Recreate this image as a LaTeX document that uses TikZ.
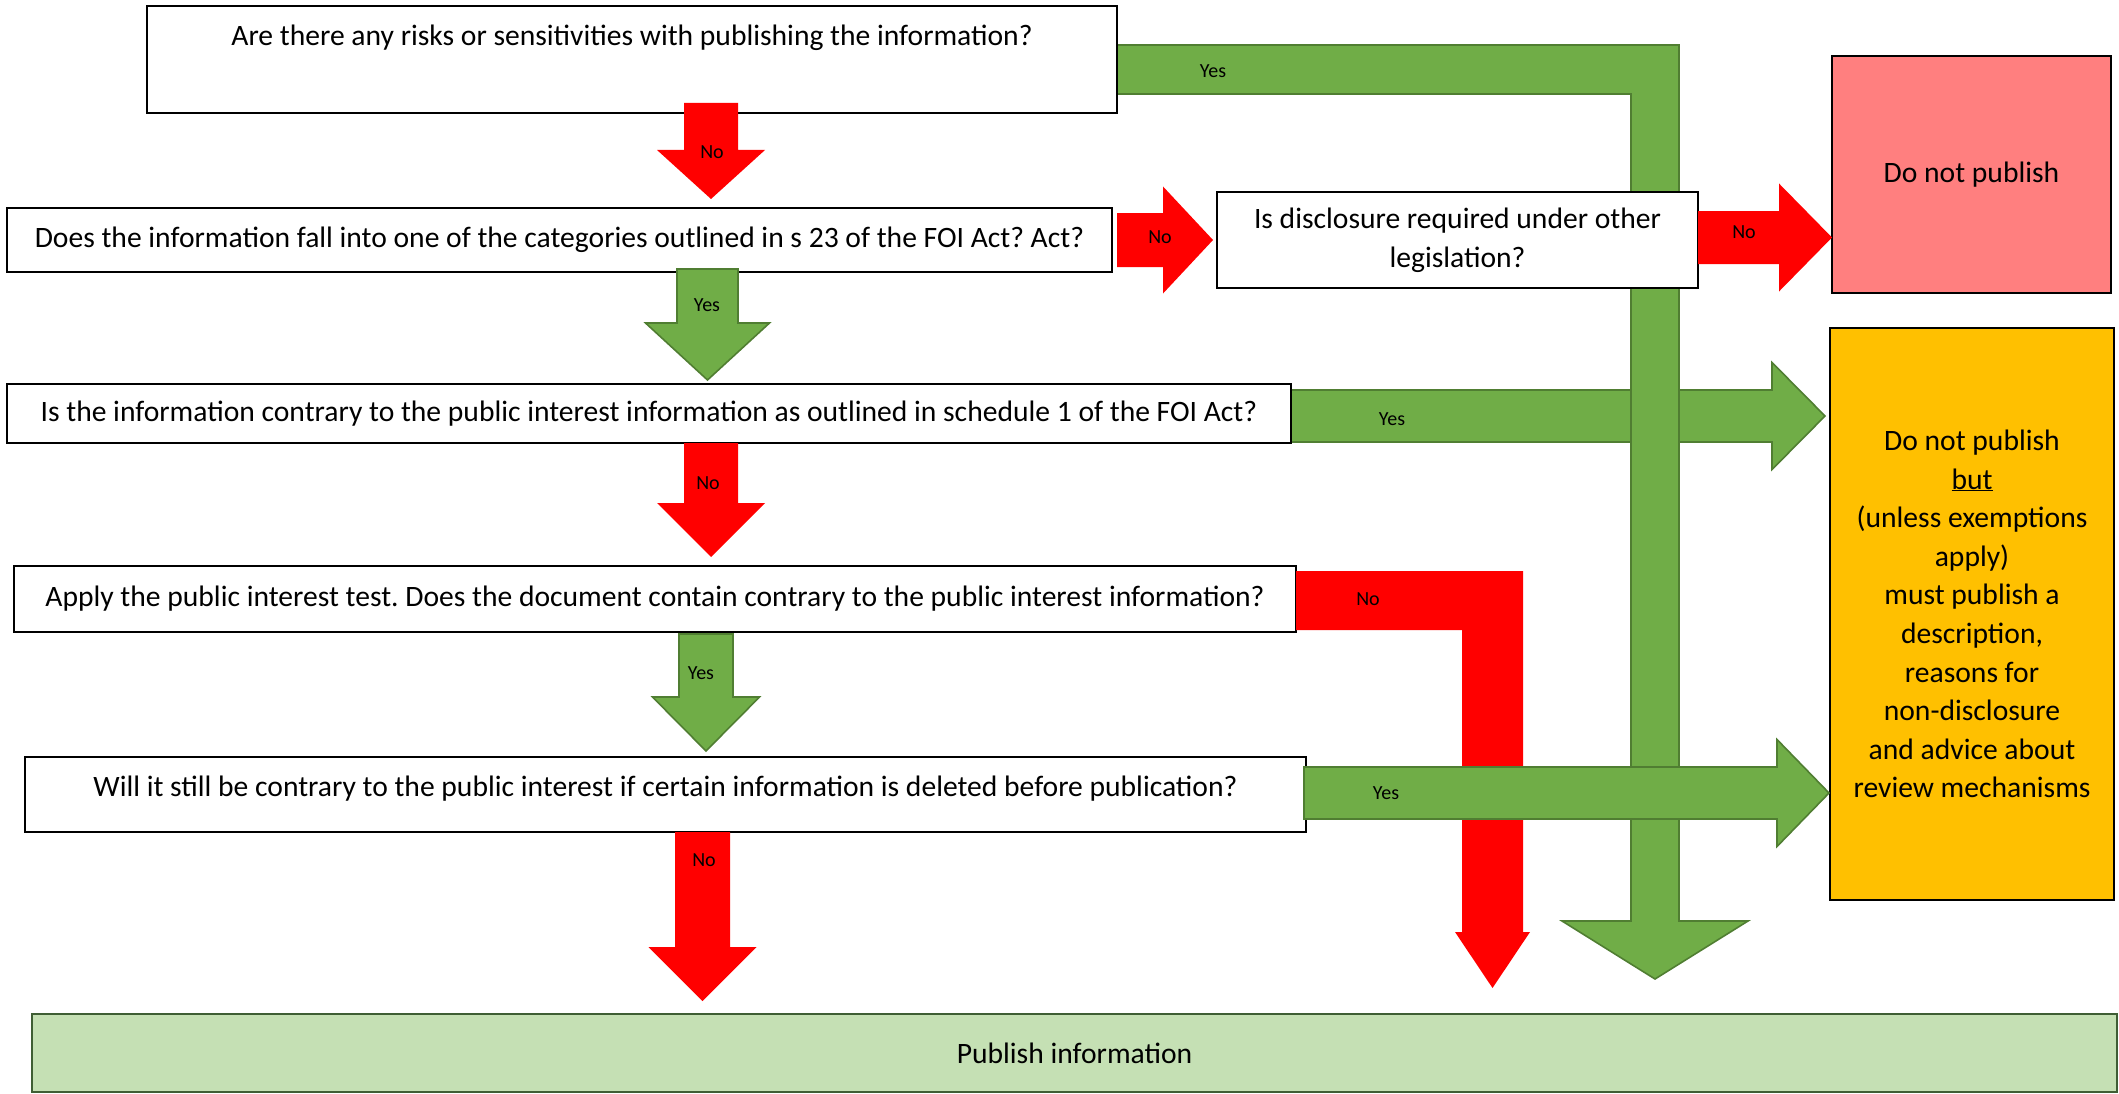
\documentclass[tikz,border=0pt]{standalone}
\usepackage{fontspec}
\setmainfont{Carlito}
\definecolor{gfill}{HTML}{70AD47}
\definecolor{gline}{HTML}{507E32}
\definecolor{rfill}{HTML}{FF0000}
\definecolor{pinkbox}{HTML}{FF7F7F}
\definecolor{yelbox}{HTML}{FFC000}
\definecolor{pubbox}{HTML}{C5E0B4}
\definecolor{publine}{HTML}{3F5E34}
\tikzset{
 qbox/.style={draw=black, line width=2.4pt, fill=white, inner sep=0pt, outer sep=0pt, align=center, font=\fontsize{29.6}{38.6}\selectfont},
 garrow/.style={fill=gfill, draw=gline, line width=1.6pt, line join=miter},
 rarrow/.style={fill=rfill},
 lbl/.style={font=\fontsize{20}{24}\selectfont, inner sep=0pt},
}
\newcommand{\dnarrow}[7]{%
  \path[#1] ({#2-#6},#3) -- ({#2+#6},#3) -- ({#2+#6},#4) -- ({#2+#7},#4) -- (#2,#5) -- ({#2-#7},#4) -- ({#2-#6},#4) -- cycle;}
\newcommand{\rtarrow}[7]{%
  \path[#1] (#3,{#2-#6}) -- (#4,{#2-#6}) -- (#4,{#2-#7}) -- (#5,#2) -- (#4,{#2+#7}) -- (#4,{#2+#6}) -- (#3,{#2+#6}) -- cycle;}
\frenchspacing
\begin{document}
\begin{tikzpicture}[x=1pt,y=-1pt]
\useasboundingbox (0,0) rectangle (2119,1094);
% Yes arrow from q3 to amber box (under the long green arrow)
\rtarrow{garrow}{416}{1291}{1772}{1825}{26}{53.5}
% long bent green arrow from q1
\path[garrow] (1117,45) -- (1679,45) -- (1679,921) -- (1748,921) -- (1655,979) -- (1562,921) -- (1631,921) -- (1631,94) -- (1117,94) -- cycle;
% boxes
\node[qbox, minimum width=970pt, minimum height=107pt] (q1) at (632,59.5) {Are there any risks or sensitivities with publishing the information?\\[10.4pt]\mbox{}};
\node[qbox, minimum width=1105pt, minimum height=64pt] (q2) at (559.5,240) {Does the information fall into one of the categories outlined in s 23 of the FOI Act? Act?};
\node[qbox, minimum width=1284pt, minimum height=59pt] (q3) at (649,413.5) {Is the information contrary to the public interest information as outlined in schedule 1 of the FOI Act?};
\node[qbox, minimum width=1282pt, minimum height=66pt] (q4) at (655,599) {Apply the public interest test. Does the document contain contrary to the public interest information?};
\node[qbox, minimum width=1281pt, minimum height=75pt] (q5) at (665.5,794.5) {Will it still be contrary to the public interest if certain information is deleted before publication?\\[-22pt]\mbox{}};
\node[qbox, minimum width=481pt, minimum height=96pt] (dis) at (1457.5,240) {Is disclosure required under other\\legislation?};
\node[qbox, fill=pinkbox, minimum width=279pt, minimum height=237pt] (dnp) at (1971.5,174.5) {Do not publish};
\node[qbox, fill=yelbox, line width=2pt, minimum width=284pt, minimum height=572pt] (amb) at (1972,614) {Do not publish\\\underline{but}\\(unless exemptions\\apply)\\must publish a\\description,\\reasons for\\non-disclosure\\and advice about\\review mechanisms};
\node[qbox, fill=pubbox, draw=publine, line width=2pt, minimum width=2085pt, minimum height=78pt] (pub) at (1074.5,1053) {Publish information};
% arrows
\dnarrow{rarrow}{711}{103}{150}{199}{27}{54}
\dnarrow{garrow}{707.5}{269}{323}{380}{30.5}{62}
\dnarrow{rarrow}{711}{443}{503}{557}{27}{54}
\dnarrow{garrow}{706}{634}{697}{751}{27}{53.5}
\dnarrow{rarrow}{702.5}{832}{947}{1001}{27.5}{54}
\rtarrow{rarrow}{240}{1117}{1163}{1213}{27}{53.5}
\rtarrow{rarrow}{237.5}{1698}{1779}{1832}{26.5}{54}
% bent red arrow from q4
\path[rarrow] (1296,571) -- (1523,571) -- (1523,932) -- (1530,932) -- (1492.5,988) -- (1455,932) -- (1462,932) -- (1462,630) -- (1296,630) -- cycle;
% Yes arrow from q5 to amber box
\rtarrow{garrow}{793}{1304}{1777}{1829}{26}{53.5}
% labels
\node[lbl] (l1) at (712,152) {No};
\node[lbl] (l2) at (707,305) {Yes};
\node[lbl] (l3) at (708,483) {No};
\node[lbl] (l4) at (701,673) {Yes};
\node[lbl] (l5) at (704,860) {No};
\node[lbl] (l6) at (1160,237) {No};
\node[lbl] (l7) at (1744,232) {No};
\node[lbl] (l8) at (1213,71) {Yes};
\node[lbl] (l9) at (1392,419) {Yes};
\node[lbl] (l10) at (1386,793) {Yes};
\node[lbl] (l11) at (1368,599) {No};
\end{tikzpicture}
\end{document}
